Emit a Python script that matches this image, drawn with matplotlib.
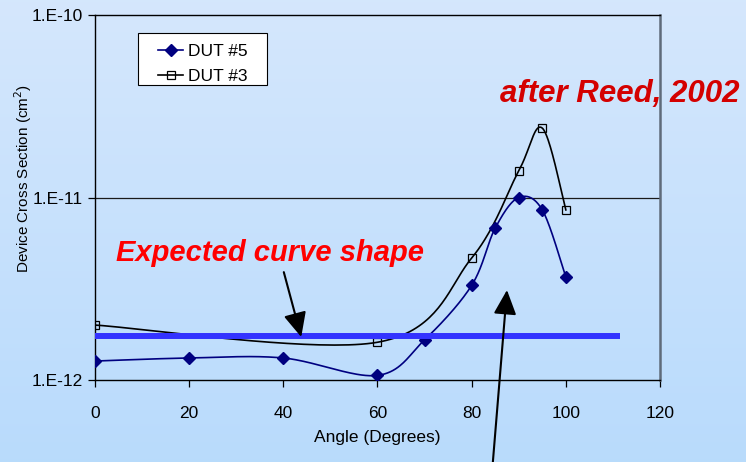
import numpy as np
import matplotlib
matplotlib.use("Agg")
import matplotlib.pyplot as plt
from matplotlib.patches import Rectangle
from matplotlib.ticker import FixedLocator, FixedFormatter, NullLocator

plt.rcParams['font.family'] = ['Liberation Sans', 'DejaVu Sans']

# data
dut5_angle = [0, 20, 40, 60, 70, 80, 85, 90, 95, 100]
dut5_xsec = [1.27e-12, 1.32e-12, 1.32e-12, 1.06e-12, 1.66e-12, 3.3e-12, 6.8e-12, 1.0e-11, 8.55e-12, 3.67e-12]
dut3_angle = [0, 60, 80, 90, 95, 100]
dut3_xsec = [2.0e-12, 1.61e-12, 4.66e-12, 1.40e-11, 2.4e-11, 8.55e-12]

expected_x = [0, 111.5]
expected_y = [1.74e-12, 1.74e-12]

x_ticks = [0, 20, 40, 60, 80, 100, 120]
y_ticks = [1e-12, 1e-11, 1e-10]
y_tick_labels = ["1.E-12", "1.E-11", "1.E-10"]


def smooth(xs, ys, n=40):
    # Excel-style smoothing: Catmull-Rom as cubic Bezier, in (x, log y) space
    p = np.column_stack([np.asarray(xs, float), np.log10(ys)])
    out = []
    for i in range(len(p) - 1):
        p0 = p[i - 1] if i > 0 else p[i]
        p3 = p[i + 2] if i + 2 < len(p) else p[i + 1]
        c1 = p[i] + (p[i + 1] - p0) / 6
        c2 = p[i + 1] - (p3 - p[i]) / 6
        t = np.linspace(0, 1, n)[:, None]
        seg = ((1 - t) ** 3) * p[i] + 3 * ((1 - t) ** 2) * t * c1 + 3 * (1 - t) * t ** 2 * c2 + t ** 3 * p[i + 1]
        out.append(seg if i == 0 else seg[1:])
    s = np.vstack(out)
    return s[:, 0], 10 ** s[:, 1]


fig = plt.figure(figsize=(7.46, 4.62), dpi=100)

# slide background gradient
bg = fig.add_axes([0, 0, 1, 1], zorder=-10)
grad = np.linspace(0, 1, 256)[:, None]
top = np.array([0.835, 0.906, 0.992])
bot = np.array([0.725, 0.859, 0.988])
img = top[None, None, :] * (1 - grad[:, :, None]) + bot[None, None, :] * grad[:, :, None]
bg.imshow(img, aspect='auto', extent=[0, 1, 0, 1])
bg.axis('off')

ax = fig.add_axes([95 / 746, 1 - 380 / 462, 565 / 746, 365 / 462])
ax.patch.set_alpha(0)
ax.set_yscale('log')
ax.set_xlim(0, 120)
ax.set_ylim(1e-12, 1e-10)

ax.axhline(1e-11, color='#1a1a1a', lw=0.9, zorder=1)

sx, sy = smooth(dut5_angle, dut5_xsec)
ax.plot(sx, sy, color='#000080', lw=1.2, zorder=3)
ax.plot(dut5_angle, dut5_xsec, ls='none', marker='D', ms=6.3, color='#000080', zorder=4)

sx, sy = smooth(dut3_angle, dut3_xsec)
ax.plot(sx, sy, color='black', lw=1.2, zorder=3)
ax.plot(dut3_angle, dut3_xsec, ls='none', marker='s', ms=6, mfc='none', mec='black', mew=0.9, zorder=4)

# legend: Excel-like box drawn separately, entries from proxies
ax.add_artist(Rectangle((138 / 746, 1 - 85 / 462), 129 / 746, 52 / 462, transform=fig.transFigure,
                        facecolor='white', edgecolor='black', lw=0.8, zorder=6, clip_on=False))
ax.plot([], [], color='#000080', lw=1.2, marker='D', ms=6.3, label='DUT #5')
ax.plot([], [], color='black', lw=1.2, marker='s', ms=6, mfc='none', mew=0.9, label='DUT #3')
leg = ax.legend(loc='upper left', bbox_to_anchor=(158 / 746, 1 - 44 / 462), bbox_transform=fig.transFigure,
                borderaxespad=0, borderpad=0, frameon=False, fontsize=12.5,
                handlelength=1.45, handletextpad=0.3, labelspacing=0.55)
leg.set_zorder(7)

ax.plot(expected_x, expected_y, color='#3333ff', lw=4.3, solid_capstyle='butt', zorder=5, clip_on=False)

ax.xaxis.set_major_locator(FixedLocator(x_ticks))
ax.yaxis.set_major_locator(FixedLocator(y_ticks))
ax.yaxis.set_major_formatter(FixedFormatter(y_tick_labels))
ax.yaxis.set_minor_locator(NullLocator())
ax.tick_params(axis='both', direction='out', length=5, width=0.9, labelsize=12.5, colors='black', pad=4)
ax.tick_params(axis='x', pad=14)

for side in ['left', 'bottom', 'top']:
    ax.spines[side].set_color('black')
    ax.spines[side].set_linewidth(1.0)
ax.spines['right'].set_color('#5f6b7a')
ax.spines['right'].set_linewidth(1.8)

ax.set_xlabel('Angle (Degrees)', fontsize=12.5, labelpad=6)
fig.text(23 / 746, 1 - 179 / 462, 'Device Cross Section (cm$^2$)', rotation=90, ha='center', va='center',
         fontsize=11)

fig.text(270 / 746, 1 - 253 / 462, 'Expected curve shape', ha='center', va='center',
         fontsize=21, color='#ff0000', fontweight='bold', fontstyle='italic')
fig.text(620 / 746, 1 - 94 / 462, 'after Reed, 2002', ha='center', va='center',
         fontsize=22.5, color='#d40000', fontweight='bold', fontstyle='italic')

arrow = dict(arrowstyle='-|>,head_length=0.75,head_width=0.35', mutation_scale=20, lw=1.5,
             color='black', shrinkA=0, shrinkB=0)
ax.annotate('', xy=(43.8, 1.72e-12), xytext=(40.1, 3.9e-12), arrowprops=arrow, annotation_clip=False, zorder=6)
ax.annotate('', xy=(87.5, 3.11e-12), xytext=(84.5, 3.55e-13), arrowprops=arrow, annotation_clip=False, zorder=6)

fig.savefig('out.png', dpi=100)
